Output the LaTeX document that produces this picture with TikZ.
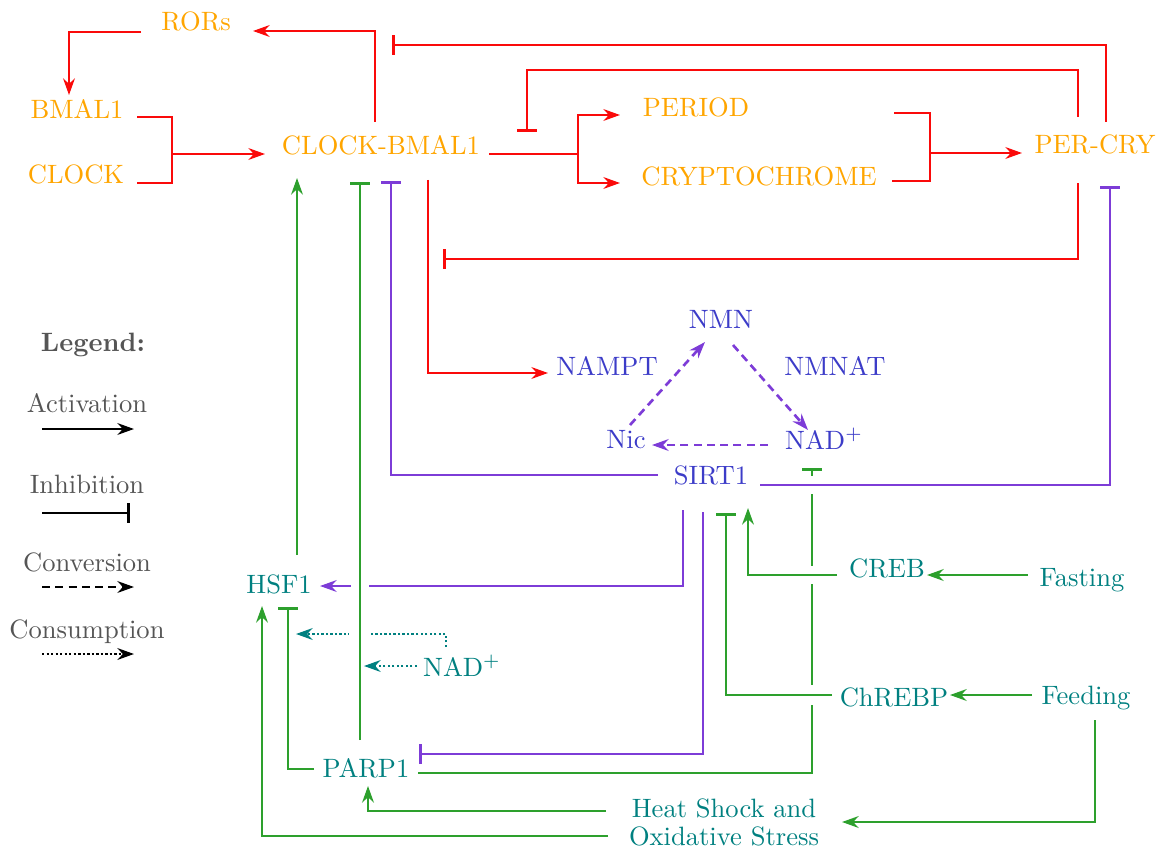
\documentclass[tikz,border=0pt]{standalone}
\usetikzlibrary{arrows.meta,calc}
\definecolor{orT}{RGB}{255,165,0}
\definecolor{redL}{RGB}{250,10,10}
\definecolor{purL}{RGB}{125,60,215}
\definecolor{bluT}{RGB}{60,60,200}
\definecolor{tealT}{RGB}{0,128,128}
\definecolor{grnL}{RGB}{45,160,45}
\definecolor{legT}{RGB}{85,85,85}
\begin{document}
\begin{tikzpicture}[x=0.3766pt,y=-0.3766pt,
  every node/.style={inner sep=0pt, anchor=base, font=\fontsize{10}{10.55}\selectfont},
  ornode/.style={text=orT},
  blnode/.style={text=bluT},
  tlnode/.style={text=tealT},
  lgnode/.style={text=legT},
  ln/.style={line width=1pt},
  act/.style={ln, -{Stealth[length=6.2pt,width=4.4pt,inset=2pt]}},
  inh/.style={ln, -{Bar[width=7.5pt]}},
  conv/.style={act, dash pattern=on 3pt off 2pt},
  cons/.style={act, dash pattern=on 0.9pt off 0.8pt},
  eraser/.style={fill=white, draw=none}
]
\useasboundingbox (0,0) rectangle (1157,849);

% nodes
\node[ornode] (rors) at (196,31) {RORs};
\node[ornode] (bmal) at (77,119) {BMAL1};
\node[ornode] (clock) at (76,183) {CLOCK};
\node[ornode] (cb) at (381,154) {CLOCK-BMAL1};
\node[ornode] (period) at (696,117) {PERIOD};
\node[ornode] (crypto) at (759,185) {CRYPTOCHROME};
\node[ornode] (percry) at (1095,153) {PER-CRY};
\node[blnode] (nmn) at (721,328) {NMN};
\node[blnode] (nampt) at (607,375) {NAMPT};
\node[blnode] (nmnat) at (835,375) {NMNAT};
\node[blnode] (nic) at (626,448) {Nic};
\node[blnode] (nadp) at (824,449) {NAD$^+$};
\node[blnode] (sirt) at (711,484) {SIRT1};
\node[tlnode] (hsf) at (279,593) {HSF1};
\node[tlnode] (nadt) at (462,676) {NAD$^+$};
\node[tlnode] (parp) at (366,777) {PARP1};
\node[tlnode, anchor=center, align=center] (stress) at (724,822) {Heat Shock and\\Oxidative Stress};
\node[tlnode] (creb) at (887,577) {CREB};
\node[tlnode] (fasting) at (1082,586) {Fasting};
\node[tlnode] (chrebp) at (894,706) {ChREBP};
\node[tlnode] (feeding) at (1086,704) {Feeding};

% legend
\node[lgnode, font=\fontsize{10}{12}\selectfont\bfseries] (leg) at (93,351) {Legend:};
\node[lgnode] (lact) at (87,412) {Activation};
\node[lgnode] (linh) at (87,493) {Inhibition};
\node[lgnode] (lconv) at (87,571) {Conversion};
\node[lgnode] (lcons) at (87,638) {Consumption};
\draw[act] ($(lact.base)+(-45,17)$) -- ++(92,0);
\draw[inh] ($(linh.base)+(-45,20)$) -- ++(88,0);
\draw[conv] ($(lconv.base)+(-45,16)$) -- ++(92,0);
\draw[cons] ($(lcons.base)+(-45,16)$) -- ++(92,0);

% red connectors
\draw[ln, redL] ($(bmal.base)+(60,-2)$) -| ($(clock.base)+(96,0)$) -- ($(clock.base)+(61,0)$);
\draw[act, redL] ($(clock.base)+(96,-29)$) -- ($(cb.base)+(-116,0)$);
\draw[act, redL] ($(cb.base)+(-6,-32)$) |- ($(rors.base)+(57,0)$);
\draw[act, redL] ($(rors.base)+(-55,1)$) -| ($(bmal.base)+(-8,-24)$);
\draw[act, redL] ($(cb.base)+(108,0)$) -- ++(89,0) |- ($(period.base)+(-76,-2)$);
\draw[act, redL] ($(cb.base)+(197,0)$) |- ($(crypto.base)+(-139,-2)$);
\draw[ln, redL] ($(period.base)+(198,-4)$) -| ($(crypto.base)+(171,-4)$) -- ($(crypto.base)+(133,-4)$);
\draw[act, redL] ($(crypto.base)+(171,-32)$) -- ($(percry.base)+(-73,0)$);
\draw[inh, redL] ($(percry.base)+(11,-31)$) |- ($(cb.base)+(11,-109)$);
\draw[inh, redL] ($(percry.base)+(-17,-36)$) |- ($(cb.base)+(146,-84)$) -- ($(cb.base)+(146,-22)$);
\draw[inh, redL] ($(percry.base)+(-17,30)$) |- ($(cb.base)+(62,105)$);
\draw[act, redL] ($(cb.base)+(47,26)$) |- ($(nampt.base)+(-59,-2)$);

% purple conversions
\draw[conv, purL] ($(nic.base)+(4,-23)$) -- ($(nmn.base)+(-16,14)$);
\draw[conv, purL] ($(nmn.base)+(12,17)$) -- ($(nadp.base)+(-16,-19)$);
\draw[conv, purL] ($(nadp.base)+(-56,-4)$) -- ($(nic.base)+(26,-3)$);

% purple connectors
\draw[inh, purL] ($(sirt.base)+(-53,-9)$) -| ($(cb.base)+(10,27)$);
\draw[act, purL] ($(sirt.base)+(-28,26)$) |- ($(hsf.base)+(41,-7)$);
\draw[inh, purL] ($(sirt.base)+(-8,28)$) |- ($(parp.base)+(53,-23)$);

% teal consumption (under green vertical)
\draw[cons, tealT] ($(nadt.base)+(-16,-29)$) |- ($(hsf.base)+(17,41)$);

% green connectors
\draw[act, grnL] ($(hsf.base)+(18,-38)$) -- ($(cb.base)+(-84,24)$);
\fill[eraser] (351,581) rectangle (369,591);
\fill[eraser] (349,629) rectangle (369,639);
\draw[inh, grnL] ($(parp.base)+(-6,-37)$) -- ($(cb.base)+(-21,28)$);
\draw[cons, tealT] ($(nadt.base)+(-45,-10)$) -- ($(parp.base)+(-2,-111)$);
\draw[inh, grnL] ($(parp.base)+(-52,-8)$) -| ($(hsf.base)+(9,14)$);
\draw[inh, grnL] ($(parp.base)+(52,-4)$) -| ($(nadp.base)+(-12,19)$);
\fill[eraser] (807,476) rectangle (817,494);
\fill[eraser] (807,566) rectangle (817,584);
\fill[eraser] (807,685) rectangle (817,705);
\draw[inh, purL] ($(sirt.base)+(49,1)$) -| ($(percry.base)+(15,33)$);
\draw[act, grnL] ($(creb.base)+(-50,-2)$) -| ($(sirt.base)+(37,24)$);
\draw[inh, grnL] ($(chrebp.base)+(-62,-11)$) -| ($(sirt.base)+(15,29)$);
\draw[act, grnL] ($(fasting.base)+(-54,-11)$) -- ($(creb.base)+(40,-2)$);
\draw[act, grnL] ($(feeding.base)+(-54,-9)$) -- ($(chrebp.base)+(56,-11)$);
\draw[act, grnL] ($(feeding.base)+(9,16)$) |- ($(stress.center)+(118,0)$);
\draw[act, grnL] ($(stress.center)+(-118,-11)$) -| ($(parp.base)+(2,9)$);
\draw[act, grnL] ($(stress.center)+(-116,14)$) -| ($(hsf.base)+(-17,13)$);
\end{tikzpicture}
\end{document}
